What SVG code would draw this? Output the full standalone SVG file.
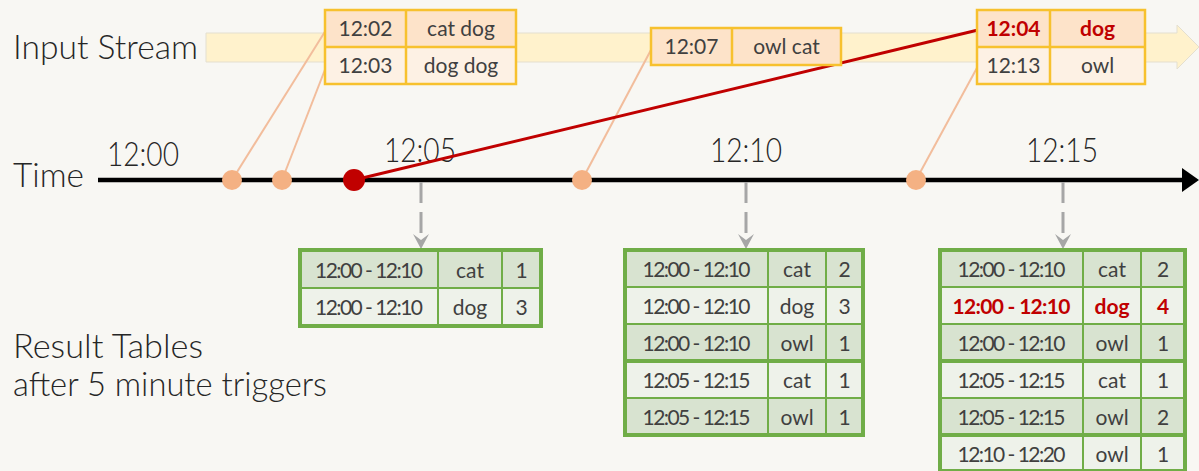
<svg xmlns="http://www.w3.org/2000/svg" width="1199" height="471" viewBox="0 0 1199 471">
<defs>
<style>
.lbl{font-family:Lato,'Open Sans',sans-serif;font-weight:300;font-size:33px;fill:#262626}
.t{font-family:Lato,'Open Sans',sans-serif;font-size:21px;fill:#404040;text-anchor:middle}
.red{fill:#c00000;font-weight:bold}
.in1{fill:#fde3c9}
.in2{fill:#fdf1e4}
.ib{fill:none;stroke:#f7c12e;stroke-width:2.5}
.dk{fill:#d8e3d0}
.lt{fill:#eef2ea}
.gi{stroke:#70ad47;stroke-width:2;fill:none}
.go{stroke:#70ad47;stroke-width:4;fill:none}
.dot{fill:#f4b183}
.plink{stroke:#f2bd9c;stroke-width:2;fill:none}
.trig{stroke:#a6a6a6;stroke-width:3;stroke-dasharray:21 9;fill:none;marker-end:url(#ah)}
</style>
<marker id="ah" markerUnits="userSpaceOnUse" viewBox="-2 -10 20 20" markerWidth="20" markerHeight="20" refX="0" refY="0" orient="auto">
<path d="M15,0 L0,-8 L6,0 L0,8 Z" fill="#a6a6a6"/>
</marker>
</defs>
<rect width="1199" height="471" fill="#f8f7f3"/>

<g id="labels">
<text class="lbl" x="13" y="59" textLength="185" lengthAdjust="spacingAndGlyphs">Input Stream</text>
<text class="lbl" x="13" y="187" textLength="71" lengthAdjust="spacingAndGlyphs">Time</text>
<text class="lbl" x="107" y="166" textLength="72" lengthAdjust="spacingAndGlyphs">12:00</text>
<text class="lbl" x="384" y="162" textLength="72" lengthAdjust="spacingAndGlyphs">12:05</text>
<text class="lbl" x="710" y="162" textLength="72" lengthAdjust="spacingAndGlyphs">12:10</text>
<text class="lbl" x="1026" y="162" textLength="72" lengthAdjust="spacingAndGlyphs">12:15</text>
<text class="lbl" x="13" y="358" textLength="190" lengthAdjust="spacingAndGlyphs">Result Tables</text>
<text class="lbl" x="13" y="396" textLength="314" lengthAdjust="spacingAndGlyphs">after 5 minute triggers</text>
</g>

<g id="input-stream">
<path d="M206,33 H1177 V25 L1199,47 L1177,69 V62 H206 Z" fill="#fff2cc" stroke="#e4dfcf" stroke-width="1"/>
</g>

<g id="timeline">
<line x1="98" y1="180" x2="1184" y2="180" stroke="#000" stroke-width="4.5"/>
<path d="M1182,168 L1199,180 L1182,192 Z" fill="#000"/>
</g>

<g id="connectors">
<line class="plink" x1="232" y1="180" x2="326" y2="30"/>
<line class="plink" x1="282" y1="180" x2="326" y2="67"/>
<line class="plink" x1="582" y1="180" x2="652" y2="48"/>
<line class="plink" x1="916" y1="180" x2="978" y2="66"/>
<line x1="354" y1="180" x2="978" y2="30" stroke="#c00000" stroke-width="3"/>
<line class="trig" x1="421" y1="182" x2="421" y2="234"/>
<line class="trig" x1="746" y1="182" x2="746" y2="234"/>
<line class="trig" x1="1063" y1="182" x2="1063" y2="234"/>
</g>

<g id="events">
<circle class="dot" cx="232" cy="180" r="10"/>
<circle class="dot" cx="282" cy="180" r="10"/>
<circle cx="354" cy="180" r="11" fill="#c00000"/>
<circle class="dot" cx="582" cy="180" r="10"/>
<circle class="dot" cx="916" cy="180" r="10"/>
</g>

<g id="input-batch-1">
<rect class="in1" x="325" y="10" width="191" height="37"/>
<rect class="in2" x="325" y="47" width="191" height="37"/>
<rect class="ib" x="325" y="10" width="191" height="74"/>
<line class="ib" x1="325" y1="47" x2="516" y2="47"/>
<line class="ib" x1="406" y1="10" x2="406" y2="84"/>
<text class="t" x="365.5" y="36">12:02</text>
<text class="t" x="461" y="36">cat dog</text>
<text class="t" x="365.5" y="73">12:03</text>
<text class="t" x="461" y="73">dog dog</text>
</g>

<g id="input-batch-2">
<rect class="in1" x="651" y="28" width="190" height="37"/>
<rect class="ib" x="651" y="28" width="190" height="37"/>
<line class="ib" x1="732" y1="28" x2="732" y2="65"/>
<text class="t" x="691.5" y="54">12:07</text>
<text class="t" x="786.5" y="54">owl cat</text>
</g>

<g id="input-batch-3">
<rect class="in1" x="977" y="10" width="168" height="37"/>
<rect class="in2" x="977" y="47" width="168" height="37"/>
<rect class="ib" x="977" y="10" width="168" height="74"/>
<line class="ib" x1="977" y1="47" x2="1145" y2="47"/>
<line class="ib" x1="1050" y1="10" x2="1050" y2="84"/>
<text class="t red" x="1013.5" y="36">12:04</text>
<text class="t red" x="1097.5" y="36">dog</text>
<text class="t" x="1013.5" y="73">12:13</text>
<text class="t" x="1097.5" y="73">owl</text>
</g>

<g id="result-1205">
<rect class="dk" x="300" y="250" width="241" height="38"/>
<rect class="lt" x="300" y="288" width="241" height="38"/>
<line class="gi" x1="300" y1="288" x2="541" y2="288"/>
<line class="gi" x1="438" y1="250" x2="438" y2="326"/>
<line class="gi" x1="502" y1="250" x2="502" y2="326"/>
<rect class="go" x="300" y="250" width="241" height="76"/>
<text class="t" x="369" y="278" textLength="108">12:00 - 12:10</text>
<text class="t" x="470" y="278">cat</text>
<text class="t" x="521.5" y="278">1</text>
<text class="t" x="369" y="315" textLength="108">12:00 - 12:10</text>
<text class="t" x="470" y="315">dog</text>
<text class="t" x="521.5" y="315">3</text>
</g>

<g id="result-1210">
<rect class="dk" x="625" y="250" width="238" height="37"/>
<rect class="lt" x="625" y="287" width="238" height="37"/>
<rect class="dk" x="625" y="324" width="238" height="37"/>
<rect class="lt" x="625" y="361" width="238" height="37"/>
<rect class="dk" x="625" y="398" width="238" height="37"/>
<line class="gi" x1="625" y1="287" x2="863" y2="287"/>
<line class="gi" x1="625" y1="324" x2="863" y2="324"/>
<line class="go" x1="625" y1="361" x2="863" y2="361"/>
<line class="gi" x1="625" y1="398" x2="863" y2="398"/>
<line class="gi" x1="768" y1="250" x2="768" y2="435"/>
<line class="gi" x1="826" y1="250" x2="826" y2="435"/>
<rect class="go" x="625" y="250" width="238" height="185"/>
<text class="t" x="696.5" y="277" textLength="108">12:00 - 12:10</text>
<text class="t" x="797" y="277">cat</text>
<text class="t" x="844.5" y="277">2</text>
<text class="t" x="696.5" y="314" textLength="108">12:00 - 12:10</text>
<text class="t" x="797" y="314">dog</text>
<text class="t" x="844.5" y="314">3</text>
<text class="t" x="696.5" y="351" textLength="108">12:00 - 12:10</text>
<text class="t" x="797" y="351">owl</text>
<text class="t" x="844.5" y="351">1</text>
<text class="t" x="696.5" y="388" textLength="108">12:05 - 12:15</text>
<text class="t" x="797" y="388">cat</text>
<text class="t" x="844.5" y="388">1</text>
<text class="t" x="696.5" y="425" textLength="108">12:05 - 12:15</text>
<text class="t" x="797" y="425">owl</text>
<text class="t" x="844.5" y="425">1</text>
</g>

<g id="result-1215">
<rect class="dk" x="940" y="250" width="245" height="37"/>
<rect class="lt" x="940" y="287" width="245" height="37"/>
<rect class="dk" x="940" y="324" width="245" height="37"/>
<rect class="lt" x="940" y="361" width="245" height="37"/>
<rect class="dk" x="940" y="398" width="245" height="37"/>
<rect class="lt" x="940" y="435" width="245" height="37"/>
<line class="gi" x1="940" y1="287" x2="1185" y2="287"/>
<line class="gi" x1="940" y1="324" x2="1185" y2="324"/>
<line class="go" x1="940" y1="361" x2="1185" y2="361"/>
<line class="gi" x1="940" y1="398" x2="1185" y2="398"/>
<line class="go" x1="940" y1="435" x2="1185" y2="435"/>
<line class="gi" x1="1083" y1="250" x2="1083" y2="472"/>
<line class="gi" x1="1141" y1="250" x2="1141" y2="472"/>
<rect class="go" x="940" y="250" width="245" height="221"/>
<text class="t" x="1011.5" y="277" textLength="108">12:00 - 12:10</text>
<text class="t" x="1112" y="277">cat</text>
<text class="t" x="1163" y="277">2</text>
<text class="t red" x="1011.5" y="314" textLength="118">12:00 - 12:10</text>
<text class="t red" x="1112" y="314">dog</text>
<text class="t red" x="1163" y="314">4</text>
<text class="t" x="1011.5" y="351" textLength="108">12:00 - 12:10</text>
<text class="t" x="1112" y="351">owl</text>
<text class="t" x="1163" y="351">1</text>
<text class="t" x="1011.5" y="388" textLength="108">12:05 - 12:15</text>
<text class="t" x="1112" y="388">cat</text>
<text class="t" x="1163" y="388">1</text>
<text class="t" x="1011.5" y="425" textLength="108">12:05 - 12:15</text>
<text class="t" x="1112" y="425">owl</text>
<text class="t" x="1163" y="425">2</text>
<text class="t" x="1011.5" y="462" textLength="108">12:10 - 12:20</text>
<text class="t" x="1112" y="462">owl</text>
<text class="t" x="1163" y="462">1</text>
</g>
</svg>
